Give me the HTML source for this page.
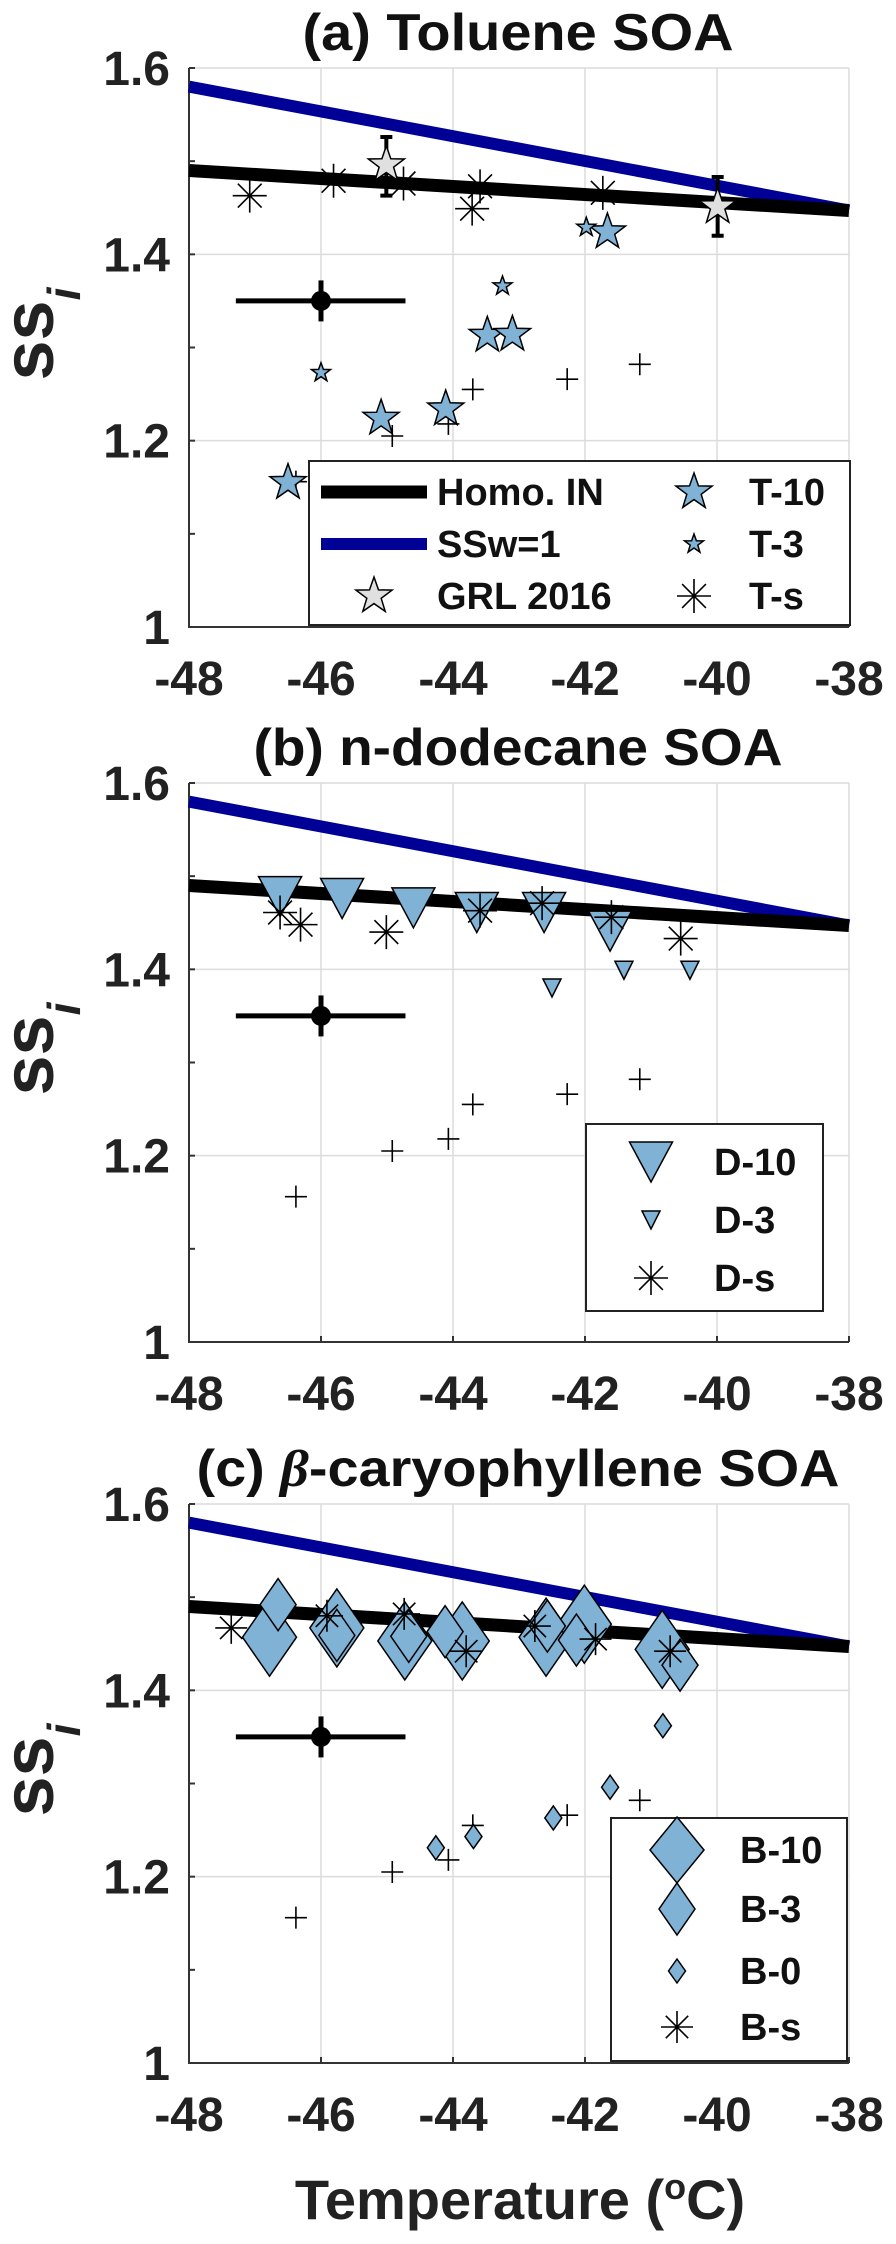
<!DOCTYPE html>
<html><head><meta charset="utf-8"><style>
html,body{margin:0;padding:0;background:#fff}
svg{display:block;font-family:"Liberation Sans",Arial,sans-serif}
</style></head><body>
<svg id="fig" width="896" height="2244" viewBox="0 0 896 2244" xmlns="http://www.w3.org/2000/svg"></svg>
<script>
// ---- shared data ----
const xTicks = [-48,-46,-44,-42,-40,-38];
const yTicks = [1, 1.2, 1.4, 1.6];
const yTickLabels = ["1","1.2","1.4","1.6"];
const yMinor = [1.1,1.3,1.5];
const homoT = [-48,-38];
const homoSS = [1.49,1.447];
const ssw1T = [-48,-38];
const ssw1SS = [1.58,1.447];
const plusT = [-46.38,-44.92,-44.07,-43.70,-42.27,-41.17];
const plusSS = [1.156,1.205,1.218,1.255,1.266,1.282];
const refT = -46, refSS = 1.35, refXErr = [-47.29,-44.72], refYErr = 0.022;
// panel a
const grlT = [-45.01,-39.99];
const grlSS = [1.496,1.451];
const grlLo = [1.463,1.420];
const grlHi = [1.526,1.483];
const t10T = [-46.5,-45.09,-44.11,-43.48,-43.1,-41.66];
const t10SS = [1.155,1.224,1.234,1.313,1.314,1.424];
const t3T = [-46.0,-43.25,-41.98];
const t3SS = [1.273,1.366,1.429];
const tsT = [-47.08,-45.81,-44.75,-43.59,-43.71,-41.73];
const tsSS = [1.463,1.479,1.476,1.473,1.449,1.466];
// panel b
const d10T = [-46.62,-45.68,-44.6,-43.64,-42.62,-41.62];
const d10SS = [1.478,1.476,1.466,1.461,1.461,1.441];
const d3T = [-42.5,-41.41,-40.41];
const d3SS = [1.380,1.399,1.399];
const dsT = [-46.62,-46.31,-45.01,-43.59,-42.65,-41.6,-40.55];
const dsSS = [1.461,1.448,1.440,1.463,1.471,1.456,1.433];
// panel c
const b10T = [-46.78,-45.76,-44.73,-43.86,-42.59,-42.01,-40.83];
const b10SS = [1.457,1.467,1.453,1.453,1.457,1.471,1.444];
const b3T = [-46.65,-45.76,-44.67,-44.12,-42.57,-42.13,-40.56];
const b3SS = [1.492,1.459,1.458,1.463,1.469,1.454,1.427];
const b0T = [-44.26,-43.69,-42.48,-41.62,-40.82];
const b0SS = [1.231,1.243,1.263,1.296,1.362];
const bsT = [-47.36,-45.91,-44.74,-43.8,-42.76,-41.84,-40.71];
const bsSS = [1.467,1.480,1.482,1.442,1.469,1.455,1.442];

const NS="http://www.w3.org/2000/svg";
const fig=document.getElementById('fig');
const BLUEF="#80b2d6";
function mk(tag,attrs,parent){const e=document.createElementNS(NS,tag);for(const k in attrs)e.setAttribute(k,attrs[k]);(parent||fig).appendChild(e);return e;}
const X0=189, XW=660, H=559;
function sx(t){return X0+(t+48)/10*XW;}
function makeSy(top){return v=>top+(1.6-v)/0.6*H;}

function starPts(cx,cy,r){let p=[];for(let i=0;i<10;i++){const a=-Math.PI/2+i*Math.PI/5;const rr=i%2?r*0.4:r;p.push((cx+rr*Math.cos(a)).toFixed(1)+","+(cy+rr*Math.sin(a)).toFixed(1));}return p.join(" ");}
function star(g,cx,cy,r,fill){const e=mk('polygon',{points:starPts(cx,cy,r),fill:fill,stroke:'#000','stroke-width':1.5},g);return e;}
function asterisk(g,cx,cy,r){const e=mk('path',{d:`M${cx-r},${cy}H${cx+r}M${cx},${cy-r}V${cy+r}M${cx-r*0.7},${cy-r*0.7}L${cx+r*0.7},${cy+r*0.7}M${cx-r*0.7},${cy+r*0.7}L${cx+r*0.7},${cy-r*0.7}`,stroke:'#000','stroke-width':1.6,fill:'none'},g);return e;}
function plus(g,cx,cy,r){return mk('path',{d:`M${cx-r},${cy}H${cx+r}M${cx},${cy-r}V${cy+r}`,stroke:'#000','stroke-width':1.6,fill:'none'},g);}
function tri(g,cx,cy,w,h){return mk('polygon',{points:`${cx-w/2},${cy-h/2} ${cx+w/2},${cy-h/2} ${cx},${cy+h/2}`,fill:BLUEF,stroke:'#000','stroke-width':1.5},g);}
function dia(g,cx,cy,w,h){return mk('polygon',{points:`${cx},${cy-h} ${cx+w},${cy} ${cx},${cy+h} ${cx-w},${cy}`,fill:BLUEF,stroke:'#000','stroke-width':1.5},g);}

function panel(key,top,title,titleLen){
  const sy=makeSy(top);
  const g=mk('g',{});
  
  
  const bottom=top+H;
  // grid
  xTicks.slice(1).forEach(t=>{const l=mk('line',{x1:sx(t),x2:sx(t),y1:top,y2:bottom,stroke:'#dcdcdc','stroke-width':1.5},g);});
  yTicks.slice(1).forEach(v=>{const l=mk('line',{x1:X0,x2:X0+XW,y1:sy(v),y2:sy(v),stroke:'#dcdcdc','stroke-width':1.5},g);});
  // axes
  const ax=mk('path',{d:`M${X0},${top}V${bottom}H${X0+XW}`,stroke:'#333','stroke-width':2,fill:'none'},g);
  
  yTicks.concat(yMinor).forEach(v=>mk('line',{x1:X0,x2:X0+6,y1:sy(v),y2:sy(v),stroke:'#333','stroke-width':2},g));
  xTicks.forEach(t=>mk('line',{x1:sx(t),x2:sx(t),y1:bottom,y2:bottom-6,stroke:'#333','stroke-width':2},g));
  // tick labels
  yTicks.forEach((v,i)=>{const tx=mk('text',{x:170,y:sy(v)+17,'text-anchor':'end','font-size':48,'font-weight':'bold',fill:'#222'},g);tx.textContent=yTickLabels[i];});
  xTicks.forEach(t=>{const tx=mk('text',{x:sx(t),y:bottom+68,'text-anchor':'middle','font-size':48,'font-weight':'bold',fill:'#222'},g);tx.textContent=String(t);});
  // y label
  const mid=top+H/2;
  const yl=mk('text',{transform:`translate(53,${mid+33}) rotate(-90)`,'font-size':72,'font-weight':'bold',fill:'#222'},g);
  
  yl.appendChild(document.createTextNode('ss'));
  const sub=mk('tspan',{dy:27,'font-size':46,'font-style':'italic'},yl);sub.textContent='i';
  // title
  const tt=mk('text',{x:518,y:top-18,'text-anchor':'middle','font-size':52,'font-weight':'bold',fill:'#111',textLength:titleLen,lengthAdjust:'spacingAndGlyphs'},g);
  
  if(key==='c'){tt.appendChild(document.createTextNode('(c) '));const b=mk('tspan',{'font-style':'italic','font-family':'"Liberation Serif",serif'},tt);b.textContent='β';tt.appendChild(document.createTextNode('-caryophyllene SOA'));}
  else tt.textContent=title;
  // lines
  const bl=mk('line',{x1:sx(ssw1T[0]),y1:sy(ssw1SS[0]),x2:sx(ssw1T[1]),y2:sy(ssw1SS[1]),stroke:'#000096','stroke-width':12},g);
  
  const hl=mk('line',{x1:sx(homoT[0]),y1:sy(homoSS[0]),x2:sx(homoT[1]),y2:sy(homoSS[1]),stroke:'#000','stroke-width':13},g);
  
  // reference point
  const rp=mk('g',{},g);
  mk('line',{x1:sx(refXErr[0]),x2:sx(refXErr[1]),y1:sy(refSS),y2:sy(refSS),stroke:'#000','stroke-width':5},rp);
  mk('line',{x1:sx(refT),x2:sx(refT),y1:sy(refSS-refYErr),y2:sy(refSS+refYErr),stroke:'#000','stroke-width':5},rp);
  mk('circle',{cx:sx(refT),cy:sy(refSS),r:10,fill:'#000'},rp);
  // plus points
  plusT.forEach((t,i)=>{const p=plus(g,sx(t),sy(plusSS[i]),11);});
  return {g,sy};
}

function legendBox(g,x,y,w,h){const r=mk('rect',{x:x,y:y,width:w,height:h,fill:'#fff',stroke:'#222','stroke-width':2},g);}
function legText(g,x,y,s){const t=mk('text',{x:x,y:y+13,'font-size':38,'font-weight':'bold',fill:'#111'},g);t.textContent=s;return t;}

// Panel a
(function(){
  const {g,sy}=panel('a',68,'(a) Toluene SOA',431);
  grlT.forEach((t,i)=>{const e=mk('path',{d:`M${sx(t)},${sy(grlLo[i])}V${sy(grlHi[i])}M${sx(t)-6},${sy(grlLo[i])}h12M${sx(t)-6},${sy(grlHi[i])}h12`,stroke:'#000','stroke-width':4,fill:'none'},g);});
  tsT.forEach((t,i)=>{const e=asterisk(g,sx(t),sy(tsSS[i]),17);});
  grlT.forEach((t,i)=>{const e=star(g,sx(t),sy(grlSS[i]),19,'#e0e0e0');});
  t10T.forEach((t,i)=>{const e=star(g,sx(t),sy(t10SS[i]),19,BLUEF);});
  t3T.forEach((t,i)=>{const e=star(g,sx(t),sy(t3SS[i]),10,BLUEF);});
  const lg=mk('g',{},g);
  legendBox(lg,309,461,541,164);
  mk('line',{x1:321,x2:427,y1:492,y2:492,stroke:'#000','stroke-width':13},lg);legText(lg,437,492,'Homo. IN');
  mk('line',{x1:321,x2:427,y1:544,y2:544,stroke:'#000096','stroke-width':12},lg);legText(lg,437,544,'SSw=1');
  star(lg,374,596,19,'#e0e0e0');legText(lg,437,596,'GRL 2016');
  star(lg,694,492,19,BLUEF);legText(lg,749,492,'T-10');
  star(lg,694,544,10,BLUEF);legText(lg,749,544,'T-3');
  asterisk(lg,694,596,17);legText(lg,749,596,'T-s');
})();

// Panel b
(function(){
  const {g,sy}=panel('b',783,'(b) n-dodecane SOA',529);
  d10T.forEach((t,i)=>{const e=tri(g,sx(t),sy(d10SS[i]),43,40);});
  d3T.forEach((t,i)=>{const e=tri(g,sx(t),sy(d3SS[i]),18,18);});
  dsT.forEach((t,i)=>{const e=asterisk(g,sx(t),sy(dsSS[i]),17);});
  const lg=mk('g',{},g);
  legendBox(lg,586,1124,237,187);
  tri(lg,651,1162,43,40);legText(lg,714,1162,'D-10');
  tri(lg,651,1220,18,18);legText(lg,714,1220,'D-3');
  asterisk(lg,651,1278,17);legText(lg,714,1278,'D-s');
})();

// Panel c
(function(){
  const {g,sy}=panel('c',1504,'',643);
  b10T.forEach((t,i)=>{const e=dia(g,sx(t),sy(b10SS[i]),27,39);});
  b3T.forEach((t,i)=>{const e=dia(g,sx(t),sy(b3SS[i]),18,26);});
  b0T.forEach((t,i)=>{const e=dia(g,sx(t),sy(b0SS[i]),8.5,12);});
  bsT.forEach((t,i)=>{const e=asterisk(g,sx(t),sy(bsSS[i]),16);});
  const lg=mk('g',{},g);
  legendBox(lg,611,1818,236,243);
  dia(lg,677,1850,27,33);legText(lg,740,1850,'B-10');
  dia(lg,677,1909,18,26);legText(lg,740,1909,'B-3');
  dia(lg,677,1971,8.5,12);legText(lg,740,1971,'B-0');
  asterisk(lg,677,2027,16);legText(lg,740,2027,'B-s');
  const xl=mk('text',{x:520,y:2219,'text-anchor':'middle','font-size':56,'font-weight':'bold',fill:'#222'},g);
  
  xl.appendChild(document.createTextNode('Temperature ('));
  const o=mk('tspan',{dy:-20,'font-size':36},xl);o.textContent='o';
  const c=mk('tspan',{dy:20},xl);c.textContent='C)';
})();
</script>
</body></html>
